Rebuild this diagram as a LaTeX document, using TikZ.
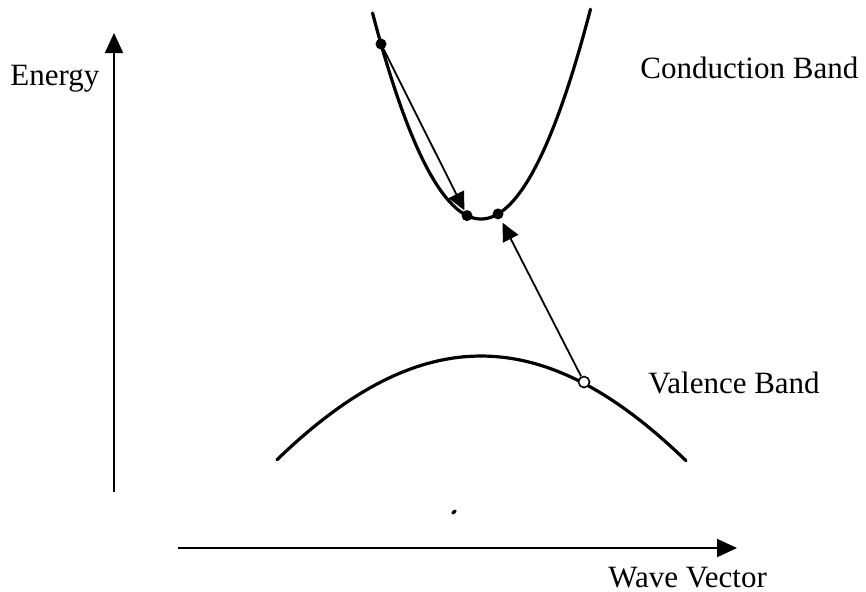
\documentclass[tikz,border=0pt]{standalone}
\usepackage{fontspec}
\setmainfont{Liberation Serif}
\usepackage{tikz}
\usetikzlibrary{arrows.meta}

\begin{document}
\begin{tikzpicture}[
  x=0.5pt, y=-0.5pt,
  lbl/.style={anchor=base west,inner sep=0pt,font=\fontsize{15.5}{18}\selectfont},
  band/.style={line width=1.6pt,line cap=round},
  axis/.style={-{Triangle[length=10pt,width=9pt]},line width=1pt},
  arr/.style={-{Triangle[length=9pt,width=8.5pt]},line width=0.9pt},
  dot/.style={circle,fill=black,inner sep=0pt,minimum size=5.5pt},
  hole/.style={circle,draw,fill=white,line width=0.8pt,inner sep=0pt,minimum size=5.5pt}
]
\useasboundingbox (0,0) rectangle (866,591);

% axes
\coordinate (eBot) at (114,492);
\coordinate (eTop) at (114,33);
\coordinate (kLeft) at (178,548);
\coordinate (kRight) at (737,548);
\draw[axis] (eBot) -- (eTop);
\draw[axis] (kLeft) -- (kRight);

% bands
\draw[band] plot[domain=372.5:590.5,samples=80] (\x,{219-0.0175*(\x-481)*(\x-481)});
\draw[band] plot[domain=277:686,samples=80] (\x,{356+359*(1-cos(0.219*(\x-481)))});

% carriers
\node[dot] (hot) at (381,44) {};
\node[dot] (relaxed) at (467,215.6) {};
\node[dot] (excited) at (498,213.9) {};
\node[hole] (hole) at (584,382) {};
\draw[arr] (hot) -- (relaxed);
\draw[arr,shorten >=2pt] (hole) -- (excited);

% speck
\fill[rotate around={40:(454,512)}] (454,512) ellipse (3 and 1.8);

% labels
\node[lbl] (energy) at (10,85) {Energy};
\node[lbl] (cband) at (640,78) {Conduction Band};
\node[lbl] (vband) at (648,393) {Valence Band};
\node[lbl] (wvec) at (608,587) {Wave Vector};
\end{tikzpicture}
\end{document}
